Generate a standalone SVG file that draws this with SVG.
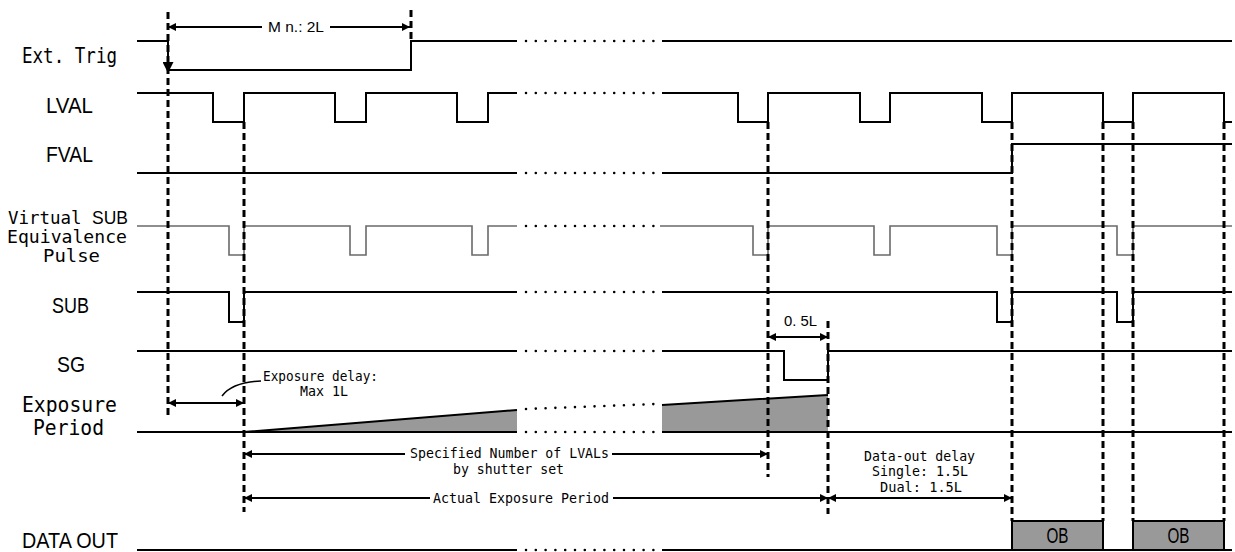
<svg xmlns="http://www.w3.org/2000/svg" width="1235" height="552" viewBox="0 0 1235 552">
<style>
.sig{stroke:#000;stroke-width:2;fill:none}
.gsig{stroke:#6a6a6a;stroke-width:1.6;fill:none}
.dash{stroke:#000;stroke-width:3;stroke-dasharray:7 4;fill:none}
.dots{stroke:#000;stroke-width:2.6;stroke-linecap:round;stroke-dasharray:0 9.8;fill:none}
.dim{stroke:#000;stroke-width:2;fill:none;marker-start:url(#ah);marker-end:url(#ah)}
.lbl{font-family:"DejaVu Sans Mono","Liberation Mono",monospace;font-size:20.5px;fill:#000}
.big{font-family:"Liberation Sans",Arial,sans-serif;font-size:22px;fill:#000}
.sm{font-family:"DejaVu Sans Mono","Liberation Mono",monospace;font-size:14px;fill:#000}
.smA{font-family:"Liberation Sans",Arial,sans-serif;font-size:13px;fill:#000}
.fill{fill:#999;stroke:none}
.ob{fill:#999;stroke:#000;stroke-width:2}
</style>
<defs>
<marker id="ah" viewBox="0 0 10 10" refX="10" refY="5" markerWidth="8" markerHeight="8" orient="auto-start-reverse" markerUnits="userSpaceOnUse"><path d="M0,0 L10,5 L0,10 z" fill="#000"/></marker>
<marker id="ahBig" viewBox="0 0 10 10" refX="10" refY="5" markerWidth="12" markerHeight="11" orient="auto" markerUnits="userSpaceOnUse"><path d="M0,0 L10,5 L0,10 z" fill="#000"/></marker>
</defs>

<g id="ext-trig">
<text class="lbl" x="22" y="63" textLength="95" lengthAdjust="spacingAndGlyphs">Ext. Trig</text>
<path class="sig" d="M137,41 H168 M168,70 H411 V41 H517"/>
<line class="dots" x1="526" y1="41" x2="656" y2="41"/>
<path class="sig" d="M662,41 H1232"/>
</g>

<g id="lval">
<text class="big" x="46" y="113" textLength="47" lengthAdjust="spacingAndGlyphs">LVAL</text>
<path class="sig" d="M137,93 H213 V122 H244 V93 H335 V122 H366 V93 H457 V122 H488 V93 H517"/>
<line class="dots" x1="526" y1="93" x2="656" y2="93"/>
<path class="sig" d="M662,93 H738 V122 H768 V93 H860 V122 H890 V93 H982 V122 H1012 V93 H1103 V122 H1133 V93 H1224 V122 H1232"/>
</g>

<g id="fval">
<text class="big" x="46" y="162" textLength="47" lengthAdjust="spacingAndGlyphs">FVAL</text>
<path class="sig" d="M137,173 H517"/>
<line class="dots" x1="526" y1="173" x2="656" y2="173"/>
<path class="sig" d="M662,173 H1012 V144 H1232"/>
</g>

<g id="virtual-sub">
<text class="lbl" style="font-size:17.5px" x="8" y="224" textLength="120" lengthAdjust="spacingAndGlyphs">Virtual <tspan style="font-family:'Liberation Sans',Arial,sans-serif">SUB</tspan></text>
<text class="lbl" style="font-size:17.5px" x="7" y="243" textLength="120" lengthAdjust="spacingAndGlyphs">Equivalence</text>
<text class="lbl" style="font-size:17.5px" x="43" y="262" textLength="57" lengthAdjust="spacingAndGlyphs">Pulse</text>
<path class="gsig" d="M137,226 H229 V255 H244 V226 H350 V255 H366 V226 H472 V255 H488 V226 H517"/>
<line class="dots" x1="526" y1="226" x2="660" y2="226"/>
<path class="gsig" d="M660,226 H753 V255 H768 V226 H874 V255 H890 V226 H997 V255 H1012 V226 H1117 V255 H1133 V226 H1232"/>
</g>

<g id="sub">
<text class="big" x="52" y="313" textLength="37" lengthAdjust="spacingAndGlyphs">SUB</text>
<path class="sig" d="M137,292 H229 V322 H244 V292 H517"/>
<line class="dots" x1="526" y1="292" x2="656" y2="292"/>
<path class="sig" d="M662,292 H997 V322 H1012 V292 H1117 V322 H1133 V292 H1232"/>
</g>

<g id="sg">
<text class="big" x="57" y="372" textLength="28" lengthAdjust="spacingAndGlyphs">SG</text>
<path class="sig" d="M137,351 H517"/>
<line class="dots" x1="526" y1="351" x2="656" y2="351"/>
<path class="sig" d="M662,351 H784 V380 H828 V351 H1232"/>
</g>

<g id="exposure-period">
<text class="lbl" x="22" y="412" textLength="95" lengthAdjust="spacingAndGlyphs">Exposure</text>
<text class="lbl" x="33" y="435" textLength="71" lengthAdjust="spacingAndGlyphs">Period</text>
<polygon class="fill" points="244,432 517,410 517,432"/>
<polygon class="fill" points="662,405 828,395 828,432 662,432"/>
<path class="sig" d="M244,432 L517,410 M662,405 L828,395"/>
<line class="dots" x1="526" y1="409" x2="656" y2="404"/>
<path class="sig" d="M137,432 H517"/>
<line class="dots" x1="526" y1="432" x2="656" y2="432"/>
<path class="sig" d="M662,432 H1232"/>
</g>

<g id="data-out">
<text class="big" x="22" y="548" textLength="96" lengthAdjust="spacingAndGlyphs">DATA OUT</text>
<rect class="ob" x="1012" y="521" width="91" height="29"/>
<rect class="ob" x="1133" y="521" width="91" height="29"/>
<text class="big" x="1057.5" y="543" text-anchor="middle" textLength="22" lengthAdjust="spacingAndGlyphs">OB</text>
<text class="big" x="1178.5" y="543" text-anchor="middle" textLength="22" lengthAdjust="spacingAndGlyphs">OB</text>
<path class="sig" d="M137,550 H517"/>
<line class="dots" x1="526" y1="550" x2="656" y2="550"/>
<path class="sig" d="M662,550 H1232"/>
</g>

<g id="connectors">
<line class="dash" x1="168" y1="12" x2="168" y2="417"/>
<line class="dash" x1="411" y1="10" x2="411" y2="40"/>
<line class="dash" x1="244" y1="122" x2="244" y2="512"/>
<line class="dash" x1="768" y1="122" x2="768" y2="477"/>
<line class="dash" x1="828" y1="321" x2="828" y2="514"/>
<line class="dash" x1="1012" y1="122" x2="1012" y2="521"/>
<line class="dash" x1="1103" y1="122" x2="1103" y2="521"/>
<line class="dash" x1="1133" y1="122" x2="1133" y2="521"/>
<line class="dash" x1="1224" y1="122" x2="1224" y2="521"/>

<line class="sig" x1="168" y1="41" x2="168" y2="73" style="marker-end:url(#ahBig)"/>
<path class="dim" d="M168,27 H410"/>
<rect x="262" y="18" width="68" height="18" fill="#fff"/>
<text class="smA" style="font-size:14px" x="296" y="32" text-anchor="middle" textLength="56" lengthAdjust="spacingAndGlyphs">M n.: 2L</text>

<path class="dim" d="M768,337 H828"/>
<text class="smA" style="font-size:14px" x="784" y="326" textLength="33" lengthAdjust="spacingAndGlyphs">0. 5L</text>

<path class="dim" d="M168,403 H244"/>
<path class="sig" style="stroke-width:1.5" d="M222,396 C228,388 240,382 261,381"/>
<text class="sm" x="263" y="381" textLength="115" lengthAdjust="spacingAndGlyphs">Exposure delay:</text>
<text class="sm" x="300" y="396" textLength="48" lengthAdjust="spacingAndGlyphs">Max 1L</text>

<path class="dim" d="M244,454 H768"/>
<rect x="405" y="444" width="207" height="34" fill="#fff"/>
<text class="sm" x="410" y="458" textLength="199" lengthAdjust="spacingAndGlyphs">Specified Number of LVALs</text>
<text class="sm" x="453" y="474" textLength="111" lengthAdjust="spacingAndGlyphs">by shutter set</text>

<path class="dim" d="M244,498 H828"/>
<rect x="430" y="489" width="183" height="18" fill="#fff"/>
<text class="sm" x="433" y="503" textLength="176" lengthAdjust="spacingAndGlyphs">Actual Exposure Period</text>

<path class="dim" d="M828,498 H1012"/>
<text class="sm" x="864" y="461" textLength="111" lengthAdjust="spacingAndGlyphs">Data-out delay</text>
<text class="sm" x="872" y="476" textLength="96" lengthAdjust="spacingAndGlyphs">Single: 1.5L</text>
<text class="sm" x="880" y="492" textLength="82" lengthAdjust="spacingAndGlyphs">Dual: 1.5L</text>
</g>
</svg>
